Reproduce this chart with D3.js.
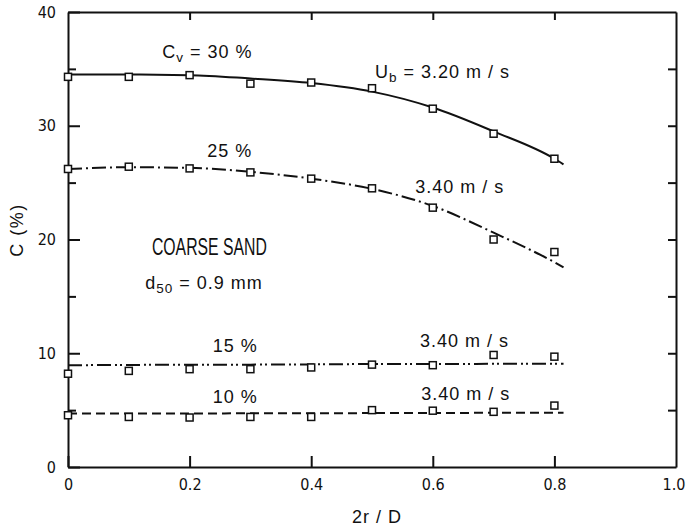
<!DOCTYPE html>
<html>
<head>
<meta charset="utf-8">
<script src="https://cdn.jsdelivr.net/npm/d3@7"></script>
<style>
  body { margin: 0; background: #fff; }
  svg text { font-family: "Liberation Sans", Arial, sans-serif; fill: #111; }
  .tick text { font-family: "Liberation Sans Narrow", "DejaVu Sans Condensed", "Liberation Sans", sans-serif; font-size: 16px; }
</style>
</head>
<body>
<div id="graph"></div>
<script>
// measured points, 2r/D vs C (%)
var rPos = [0, 0.1, 0.2, 0.3, 0.4, 0.5, 0.6, 0.7, 0.8];
var c30 = [34.3, 34.3, 34.45, 33.7, 33.8, 33.3, 31.5, 29.3, 27.1];
var c25 = [26.2, 26.4, 26.25, 25.9, 25.35, 24.5, 22.8, 20.0, 18.9];
var c15 = [8.2, 8.45, 8.6, 8.6, 8.75, 9.0, 8.95, 9.85, 9.7];
var c10 = [4.55, 4.4, 4.35, 4.4, 4.4, 5.0, 4.95, 4.85, 5.4];

// fitted curves drawn through the data
var fitX = [0, 0.1, 0.2, 0.3, 0.4, 0.5, 0.6, 0.7, 0.8, 0.815];
var fit30 = [34.5, 34.5, 34.45, 34.15, 33.75, 33.0, 31.6, 29.5, 27.1, 26.6];
var fit25 = [26.2, 26.35, 26.3, 25.95, 25.35, 24.45, 22.95, 20.6, 18.0, 17.55];
var fit15 = [8.95, 8.97, 9.0, 9.0, 9.02, 9.05, 9.05, 9.07, 9.08, 9.08];
var fit10 = [4.7, 4.7, 4.7, 4.72, 4.72, 4.74, 4.75, 4.76, 4.76, 4.76];

var xTicks = [0, 0.2, 0.4, 0.6, 0.8, 1.0];
var yTicks = [0, 5, 10, 15, 20, 25, 30, 35, 40];

var W = 686, H = 531;
var svg = d3.select('#graph').append('svg').attr('width', W).attr('height', H);

var x = d3.scaleLinear().domain([0, 1]).range([68, 676]);
var y = d3.scaleLinear().domain([0, 40]).range([467, 12]);

// frame axes with inward ticks
function styleAxis(g) {
  g.selectAll('path.domain').attr('stroke', '#111').attr('stroke-width', 2);
  g.selectAll('.tick line').attr('stroke', '#111').attr('stroke-width', 2);
}
var bottom = svg.append('g').attr('transform', 'translate(0,' + y(0) + ')')
  .call(d3.axisBottom(x).tickValues(xTicks).tickSizeInner(-11).tickSizeOuter(0).tickPadding(12)
    .tickFormat(function (d) { return d === 0 ? '0' : d3.format('.1f')(d); }))
  .call(styleAxis);
var lastTick = bottom.selectAll('.tick').filter(function (d) { return d === 1; });
lastTick.select('line').remove();
lastTick.select('text').attr('text-anchor', 'end').attr('dx', 9);

svg.append('g').attr('transform', 'translate(0,' + y(40) + ')')
  .call(d3.axisTop(x).tickValues([0.2, 0.4, 0.6, 0.8]).tickSizeInner(-8).tickSizeOuter(0).tickFormat(''))
  .call(styleAxis);
svg.append('g').attr('transform', 'translate(' + x(0) + ',0)')
  .call(d3.axisLeft(y).tickValues(yTicks).tickSizeInner(-10).tickSizeOuter(0).tickPadding(12)
    .tickFormat(function (d) { return d % 10 === 0 ? d : ''; }))
  .call(styleAxis)
  .selectAll('.tick line').attr('x2', function (d) { return d % 10 === 0 ? 12 : 8; });
svg.append('g').attr('transform', 'translate(' + x(1) + ',0)')
  .call(d3.axisRight(y).tickValues([5, 10, 15, 20, 25, 30, 35]).tickSizeInner(-8).tickSizeOuter(0).tickFormat(''))
  .call(styleAxis);

// curves
var line = d3.line().x(function (d) { return x(d[0]); }).y(function (d) { return y(d[1]); })
  .curve(d3.curveMonotoneX);
var curves = [
  { vals: fit30, dash: null },
  { vals: fit25, dash: '14,4,2,4' },
  { vals: fit15, dash: '14,4,2,3,2,4' },
  { vals: fit10, dash: '9,5' }
];
curves.forEach(function (c) {
  svg.append('path')
    .datum(fitX.map(function (v, i) { return [v, c.vals[i]]; }))
    .attr('d', line)
    .attr('fill', 'none')
    .attr('stroke', '#111')
    .attr('stroke-width', 2)
    .attr('stroke-dasharray', c.dash);
});

// data squares
[c30, c25, c15, c10].forEach(function (s) {
  svg.append('g').selectAll('rect')
    .data(rPos.map(function (v, i) { return [v, s[i]]; }))
    .enter().append('rect')
    .attr('x', function (d) { return x(d[0]) - 3.5; })
    .attr('y', function (d) { return y(d[1]) - 3.5; })
    .attr('width', 7).attr('height', 7)
    .attr('fill', '#fff').attr('stroke', '#111').attr('stroke-width', 1.5);
});

// annotations (data coords)
function note(px, py, parts, size, extra) {
  var t = svg.append('text').attr('x', x(px)).attr('y', y(py))
    .attr('font-size', size).attr('letter-spacing', 1);
  parts.forEach(function (p) {
    var ts = t.append('tspan').text(p.t);
    if (p.sub) ts.attr('font-size', size * 0.75).attr('dy', 4);
    if (p.up) ts.attr('dy', -4);
  });
  if (extra) extra(t);
  return t;
}
note(0.155, 35.95, [{ t: 'C' }, { t: 'v', sub: true }, { t: ' = 30 %', up: true }], 18);
note(0.505, 34.2, [{ t: 'U' }, { t: 'b', sub: true }, { t: ' = 3.20 m / s', up: true }], 18);
note(0.229, 27.25, [{ t: '25 %' }], 18);
note(0.571, 24.1, [{ t: '3.40 m / s' }], 18);
note(0.138, 18.64, [{ t: 'COARSE SAND' }], 23, function (t) {
  t.attr('letter-spacing', 0).attr('textLength', 115).attr('lengthAdjust', 'spacingAndGlyphs');
});
note(0.127, 15.65, [{ t: 'd' }, { t: '50', sub: true }, { t: ' = 0.9 mm', up: true }], 18);
note(0.238, 10.1, [{ t: '15 %' }], 18);
note(0.579, 10.55, [{ t: '3.40 m / s' }], 18);
note(0.238, 5.63, [{ t: '10 %' }], 18);
note(0.581, 5.9, [{ t: '3.40 m / s' }], 18);

// axis titles
svg.append('text').attr('x', 377).attr('y', 523).attr('text-anchor', 'middle')
  .attr('font-size', 18).attr('letter-spacing', 1).text('2r / D');
svg.append('text').attr('transform', 'translate(23,230) rotate(-90)').attr('text-anchor', 'middle')
  .attr('font-size', 18).attr('letter-spacing', 1.5).text('C (%)');
</script>
</body>
</html>
